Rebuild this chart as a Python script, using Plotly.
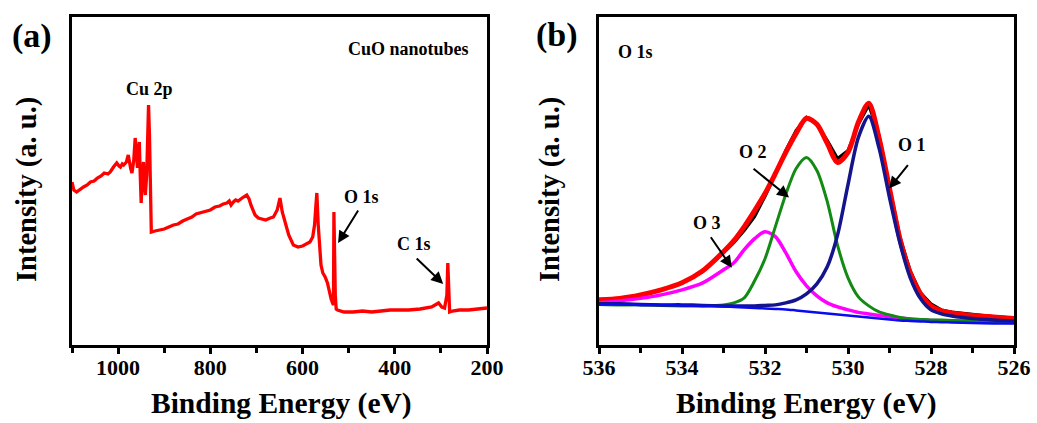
import plotly.graph_objects as go

# ---------------- Panel (a): survey spectrum ----------------
survey_ev = [1100, 1096, 1090, 1082, 1075, 1067, 1060, 1052, 1045, 1037, 1030, 1022, 1017,
             1010, 1003, 998, 995, 991, 988, 982, 978, 973, 970, 966, 963, 960, 958, 956,
             954, 952, 950, 948, 945, 943, 941, 938, 936, 934, 932, 930, 928, 920, 910,
             900, 890, 880, 870, 860, 850, 840, 831, 822, 811, 800, 790, 780, 772, 764,
             759, 755, 750, 745, 740, 735, 728, 721, 716, 712, 703, 696, 690, 680, 670,
             663, 655, 649, 644, 638, 630, 620, 610, 600, 590, 584, 578, 574, 571, 569,
             566, 563, 560, 556, 551, 546, 542, 538, 535, 533, 532, 531, 529, 527, 524,
             510, 490, 470, 450, 430, 410, 390, 370, 345, 320, 305, 298, 292, 287, 285,
             283, 281, 275, 260, 240, 220, 200]
survey_int = [163, 155, 153, 156, 158, 160, 163, 164, 167, 169, 172, 171, 173,
              178, 182, 179, 178, 181, 180, 183, 190, 177, 172, 185, 207, 190, 177, 195,
              203, 170, 142, 165, 183, 160, 150, 170, 200, 240, 210, 163, 113, 114, 115,
              116, 118, 120, 121, 124, 126, 128, 131, 132, 134, 135, 138, 139, 141, 142,
              144, 140, 143, 145, 144, 146, 148, 150, 146, 140, 130, 127, 126, 125, 127,
              128, 135, 147, 133, 122, 110, 100, 98, 99, 102, 103, 108, 120, 140, 152,
              120, 98, 80, 72, 68, 62, 52, 46, 42, 40, 133, 100, 50, 36, 35,
              33, 33, 34, 33, 34, 35, 35, 35, 36, 38, 42, 38, 37, 50, 82,
              60, 33, 34, 35, 35, 36, 37]

# ---------------- Panel (b): O 1s high resolution ----------------
o1s_ev = [536, 535.5, 535, 534.5, 534, 533.5, 533, 532.75, 532.5, 532.25, 532, 531.75,
          531.5, 531.25, 531, 530.75, 530.5, 530.25, 530, 529.75, 529.5, 529.25, 529,
          528.75, 528.5, 528.25, 528, 527.75, 527.5, 527, 526.5, 526]
raw_int = [44, 46, 49, 55, 62, 73, 92, 102, 114, 128, 148, 170,
           194, 214, 227, 220, 204, 186, 194, 220, 239, 209, 158,
           108, 74, 52, 41, 35, 33, 30.5, 28.5, 27]
fit_int = [45, 46.5, 50, 55, 62, 74, 93, 104, 118, 134, 151, 171,
           192, 211, 226, 220, 201, 182, 192, 222, 241, 206, 156,
           106, 72, 51, 39, 34, 32, 29.5, 28, 26.5]
o1_int = [41, 41, 40.5, 40, 40, 39.5, 39, 39, 39, 39, 39.5, 40,
          42, 45, 51, 61, 78, 110, 160, 207, 228, 196, 147,
          102, 67, 46, 35, 31, 29, 26.5, 25, 24]
o2_int = [40.5, 40, 40, 39.5, 39, 39, 40, 42, 47, 64, 86, 118,
          150, 176, 187, 174, 143, 99, 67, 48, 39, 33, 30,
          27.5, 26, 25.5, 25, 24.8, 24.5, 24, 23.5, 23]
o3_int = [42, 44, 46.5, 50, 55, 62, 75, 82, 95, 106, 113, 108,
          92, 73, 59, 49, 42, 38, 35, 32.5, 31, 29.5, 28,
          27, 26, 25, 24.5, 24.2, 24, 23.5, 23, 22.5]
bg_int = [40.5, 40.5, 40, 40, 39.5, 39, 38.5, 38, 37.5, 37, 36.5, 36,
          35.5, 34.5, 33.5, 32.5, 31.5, 30.5, 29.5, 28.5, 27.5, 26.5, 25.5,
          24.5, 24, 23.5, 23, 22.8, 22.5, 22, 21.5, 21.5]

survey_ticks = [1000, 800, 600, 400, 200]
o1s_ticks = [536, 534, 532, 530, 528, 526]

FONT = "Liberation Serif"
W, H = 1037, 423


def px(x):
    """pixel column -> paper fraction"""
    return x / W


def py(y):
    """pixel row -> paper fraction"""
    return 1 - y / H


fig = go.Figure()

fig.add_trace(go.Scatter(x=survey_ev, y=survey_int, mode="lines",
                         line=dict(color="#FF0000", width=3.3), xaxis="x", yaxis="y",
                         showlegend=False))

curves = [
    (raw_int, "#000000", 3, "linear"),
    (fit_int, "#FF0000", 5, "spline"),
    (o3_int, "#FF00FF", 3.5, "spline"),
    (o2_int, "#138A13", 3, "spline"),
    (o1_int, "#14148C", 3.5, "spline"),
    (bg_int, "#0A0AF0", 2.5, "spline"),
]
for vals, col, w, shape in curves:
    fig.add_trace(go.Scatter(x=o1s_ev, y=vals, mode="lines",
                             line=dict(color=col, width=w, shape=shape, smoothing=0.8),
                             xaxis="x2", yaxis="y2", showlegend=False))

ydom = [py(345), py(17)]


def xaxis_style(dom, rng, ticks, minor_dt):
    return dict(
        domain=dom, range=rng, tickmode="array", tickvals=ticks,
        ticktext=[str(t) for t in ticks], automargin=False,
        showline=True, linecolor="black", linewidth=3, mirror=True,
        ticks="outside", ticklen=6, tickwidth=2.5, tickcolor="black",
        ticklabelstandoff=-5,
        minor=dict(ticks="outside", dtick=minor_dt, ticklen=5, tickwidth=2.5,
                   tickcolor="black", showgrid=False),
        showgrid=False, zeroline=False,
        tickfont=dict(family=FONT, size=22, color="black", weight="bold"),
    )


def yaxis_style(anchor, rng):
    return dict(domain=ydom, range=rng, anchor=anchor, showticklabels=False,
                automargin=False,
                ticks="", showline=True, linecolor="black", linewidth=3, mirror=True,
                showgrid=False, zeroline=False)


fig.update_layout(
    width=W, height=H,
    margin=dict(l=0, r=0, t=0, b=0, autoexpand=False),
    paper_bgcolor="white", plot_bgcolor="white",
    xaxis=dict(**xaxis_style([px(72), px(487)], [1100, 200], survey_ticks, 100), anchor="y"),
    yaxis=yaxis_style("x", [0, 328]),
    xaxis2=dict(**xaxis_style([px(599), px(1014)], [536, 526], o1s_ticks, 1), anchor="y2"),
    yaxis2=yaxis_style("x2", [0, 327]),
)


def bold(size):
    return dict(family=FONT, size=size, color="black", weight="bold")


ann = []
# panel labels and axis titles (paper coords)
ann.append(dict(text="(a)", x=px(32), y=py(36), xref="paper", yref="paper",
                showarrow=False, font=bold(34), xanchor="center", yanchor="middle"))
ann.append(dict(text="(b)", x=px(557), y=py(35), xref="paper", yref="paper",
                showarrow=False, font=bold(34), xanchor="center", yanchor="middle"))
for cx in [(72 + 487) / 2 + 2, (599 + 1014) / 2]:
    ann.append(dict(text="Binding Energy (eV)", x=px(cx), y=py(403), xref="paper",
                    yref="paper", showarrow=False, font=bold(29.5),
                    xanchor="center", yanchor="middle"))
for cx in [27, 550]:
    ann.append(dict(text="Intensity (a. u.)", x=px(cx), y=py(190), xref="paper",
                    yref="paper", showarrow=False, font=bold(28.5), textangle=-90,
                    xanchor="center", yanchor="middle"))

# text labels in data coordinates
labels = [
    ("CuO nanotubes", 371, 296, "x", "y"),
    ("Cu 2p", 931, 256, "x", "y"),
    ("O 1s", 473, 148, "x", "y"),
    ("C 1s", 358, 101, "x", "y"),
    ("O 1s", 535.13, 292, "x2", "y2"),
    ("O 1", 528.46, 199, "x2", "y2"),
    ("O 2", 532.29, 192, "x2", "y2"),
    ("O 3", 533.4, 122, "x2", "y2"),
]
for t, x, y, xr, yr in labels:
    ann.append(dict(text=t, x=x, y=y, xref=xr, yref=yr, showarrow=False,
                    font=bold(18), xanchor="center", yanchor="middle"))

# arrows: head in data coords, tail offset in pixels
arrows = [
    (523, 102, 21, -34, "x", "y"),
    (295, 61, -28, -27, "x", "y"),
    (529.01, 156, 20, -25, "x2", "y2"),
    (531.42, 147, -37, -30, "x2", "y2"),
    (532.8, 77, -22, -32, "x2", "y2"),
]
for x, y, ax, ay, xr, yr in arrows:
    ann.append(dict(text="", x=x, y=y, xref=xr, yref=yr, ax=ax, ay=ay,
                    showarrow=True, arrowhead=2, arrowsize=1.2, arrowwidth=2,
                    arrowcolor="black"))

fig.update_layout(annotations=ann)

fig.write_html("out.html")
